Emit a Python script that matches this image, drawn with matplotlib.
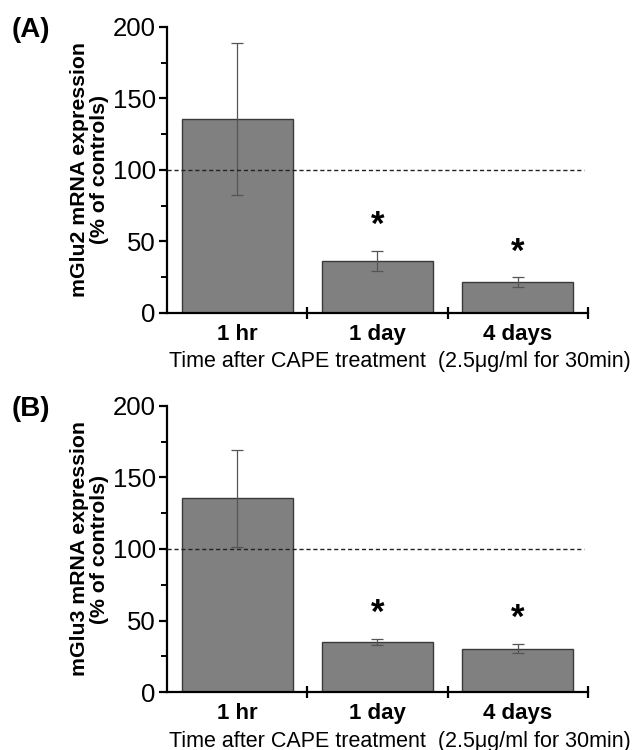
import matplotlib.pyplot as plt

plt.rcParams['font.family'] = ['Liberation Sans', 'DejaVu Sans']

categories = ['1 hr', '1 day', '4 days']
mglu2_mean = [135.7, 36.3, 21.5]
mglu2_err = [53.0, 7.0, 3.4]
mglu3_mean = [135.4, 35.1, 30.4]
mglu3_err = [34.0, 2.0, 3.2]
significant = [False, True, True]

panels = [
    ('(A)', 'mGlu2 mRNA expression\n(% of controls)', mglu2_mean, mglu2_err),
    ('(B)', 'mGlu3 mRNA expression\n(% of controls)', mglu3_mean, mglu3_err),
]

fig = plt.figure(figsize=(6.32, 7.5), dpi=100)
# axes boxes in figure fractions [left, bottom, width, height]
boxes = [[0.2642, 0.5827, 0.6662, 0.3813],
         [0.2642, 0.0773, 0.6662, 0.3814]]

for (letter, ylab, means, errs), box in zip(panels, boxes):
    ax = fig.add_axes(box)
    xs = [i + 0.5 for i in range(len(categories))]
    ax.bar(xs, means, width=0.79, color='#808080', edgecolor='#3a3a3a',
           linewidth=1.0, zorder=2)
    ax.errorbar(xs, means, yerr=errs, fmt='none', ecolor='#555555',
                elinewidth=0.9, capsize=4.5, capthick=0.9, zorder=3)
    ax.axhline(100, xmin=0, xmax=0.99, color='#222222', linestyle=(0, (3, 2)),
               linewidth=1.0, zorder=4)

    for x, m, e, s in zip(xs, means, errs, significant):
        if s:
            ax.annotate('*', xy=(x, m + e), xytext=(0, 9), textcoords='offset pixels',
                        ha='center', va='bottom', fontsize=25, fontweight='bold')

    ax.set_xlim(0, 3)
    ax.set_ylim(0, 200)
    ax.set_yticks([0, 50, 100, 150, 200])
    ax.set_yticks([25, 75, 125, 175], minor=True)
    ax.set_xticks([1, 2, 3])
    ax.set_xticklabels([])
    ax.set_xticks(xs, minor=True)
    ax.set_xticklabels(categories, minor=True, fontsize=16, fontweight='bold')

    for side in ['top', 'right']:
        ax.spines[side].set_visible(False)
    for side in ['left', 'bottom']:
        ax.spines[side].set_linewidth(1.6)

    ax.tick_params(axis='y', which='major', labelsize=18.5, length=6, width=1.6, pad=2)
    ax.tick_params(axis='y', which='minor', length=4, width=1.4)
    ax.tick_params(axis='x', which='major', direction='inout', length=8, width=1.6)
    ax.tick_params(axis='x', which='minor', length=0, pad=8)

    ax.set_ylabel(ylab, fontsize=15.3, fontweight='bold', labelpad=3, linespacing=1.05)

    ax.annotate('Time after CAPE treatment  (2.5\u03bcg/ml for 30min)',
                xy=(0.553, 0), xycoords='axes fraction', xytext=(0, -49),
                textcoords='offset pixels', ha='center', va='center', fontsize=15.5)

    ax.annotate(letter, xy=(0, 1), xycoords='axes fraction', xytext=(-136, -3),
                textcoords='offset pixels', ha='center', va='center',
                fontsize=20, fontweight='bold')

fig.savefig('out.png', dpi=100)
